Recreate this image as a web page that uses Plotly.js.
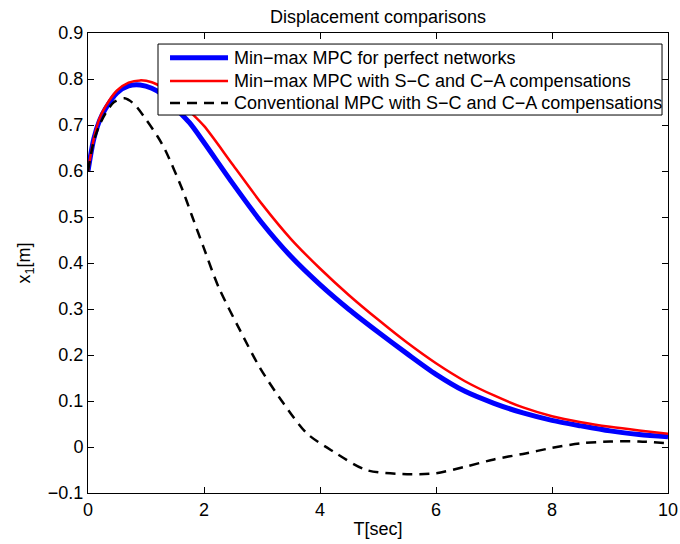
<!DOCTYPE html>
<html>
<head>
<meta charset="utf-8">
<script src="https://cdn.plot.ly/plotly-3.0.1.min.js"></script>
<style>html,body{margin:0;padding:0;background:#fff;}#chart{width:680px;height:544px;}</style>
</head>
<body>
<div id="chart"></div>
<script>
// Time samples and series values
const tBlue = [0, 0.1, 0.2, 0.3, 0.5, 0.7, 0.9, 1.1, 1.3, 1.5, 1.75, 2, 2.5, 3, 3.5, 4, 4.5, 5, 5.5, 6, 6.5, 7, 7.5, 8, 8.5, 9, 9.5, 10];
const blueVals = [0.60, 0.67, 0.71, 0.735, 0.77, 0.785, 0.787, 0.78, 0.765, 0.738, 0.705, 0.662, 0.572, 0.487, 0.414, 0.353, 0.299, 0.25, 0.203, 0.158, 0.121, 0.095, 0.074, 0.058, 0.046, 0.035, 0.027, 0.022];

const tRed = [0, 0.1, 0.2, 0.3, 0.5, 0.7, 0.9, 1.1, 1.3, 1.5, 1.75, 2, 2.5, 3, 3.5, 4, 4.5, 5, 5.5, 6, 6.5, 7, 7.5, 8, 8.5, 9, 9.5, 10];
const redVals = [0.60, 0.67, 0.715, 0.74, 0.775, 0.792, 0.797, 0.793, 0.78, 0.76, 0.73, 0.698, 0.613, 0.528, 0.452, 0.388, 0.33, 0.277, 0.227, 0.182, 0.143, 0.112, 0.086, 0.067, 0.054, 0.044, 0.036, 0.029];

const tBlack = [0, 0.1, 0.2, 0.3, 0.45, 0.63, 0.8, 1.0, 1.2, 1.33, 1.62, 1.8, 1.99, 2.25, 2.62, 2.97, 3.37, 3.77, 4.23, 4.8, 5.5, 6, 6.5, 7, 7.5, 8, 8.5, 9, 9.5, 10];
const blackVals = [0.60, 0.665, 0.70, 0.725, 0.75, 0.758, 0.745, 0.712, 0.675, 0.646, 0.562, 0.50, 0.435, 0.348, 0.254, 0.171, 0.095, 0.03, -0.01, -0.05, -0.059, -0.057, -0.043, -0.027, -0.015, -0.002, 0.008, 0.012, 0.012, 0.008];

const seriesNames = [
  "Min\u2212max MPC for perfect networks",
  "Min\u2212max MPC with S\u2212C and C\u2212A compensations",
  "Conventional MPC with S\u2212C and C\u2212A compensations"
];
const seriesColors = ["#0000ff", "#ff0000", "#000000"];
const seriesWidths = [5, 2.5, 2.5];
const seriesDash = ["solid", "solid", "10px,7px"];
const xTicks = [0, 2, 4, 6, 8, 10];
const yTicks = [-0.1, 0, 0.1, 0.2, 0.3, 0.4, 0.5, 0.6, 0.7, 0.8, 0.9];

const FONT = "Liberation Sans, Arial, Helvetica, sans-serif";
const FS = 18;

const xs = [tBlue, tRed, tBlack];
const ys = [blueVals, redVals, blackVals];
const traces = xs.map((x, i) => ({
  x: x, y: ys[i], name: seriesNames[i], mode: "lines", showlegend: false,
  line: {color: seriesColors[i], width: seriesWidths[i], dash: seriesDash[i], shape: "spline", smoothing: 0.8}
}));

// Legend drawn as a boxed key (paper coordinates)
const legBox = {x0: 0.1207, x1: 0.9897, y0: 0.8217, y1: 0.976};
const legRows = [0.9463, 0.8957, 0.8478];
const legLineX = [0.1414, 0.2414];
const legTextX = 0.2483;

const shapes = [{type: "rect", xref: "paper", yref: "paper",
  x0: legBox.x0, x1: legBox.x1, y0: legBox.y0, y1: legBox.y1,
  line: {color: "#000", width: 1}, fillcolor: "#fff", layer: "above"}];
const annotations = [];
legRows.forEach((ry, i) => {
  shapes.push({type: "line", xref: "paper", yref: "paper",
    x0: legLineX[0], x1: legLineX[1], y0: ry, y1: ry, layer: "above",
    line: {color: seriesColors[i], width: seriesWidths[i], dash: seriesDash[i]}});
  annotations.push({xref: "paper", yref: "paper", x: legTextX, y: ry,
    xanchor: "left", yanchor: "middle", showarrow: false, text: seriesNames[i],
    font: {family: FONT, size: FS, color: "#000"}});
});

const axisCommon = {
  showline: true, mirror: "ticks", linecolor: "#000", linewidth: 1,
  ticks: "inside", ticklen: 6, tickcolor: "#000", tickwidth: 1,
  showgrid: false, zeroline: false,
  tickfont: {family: FONT, size: FS, color: "#000"}
};

const layout = {
  width: 680, height: 544,
  paper_bgcolor: "#fff", plot_bgcolor: "#fff",
  margin: {l: 88, r: 12, t: 33, b: 51},
  font: {family: FONT, color: "#000"},
  title: {text: "Displacement comparisons", font: {family: FONT, size: FS, color: "#000"},
          x: 0.5, xref: "paper", y: 0.969, yanchor: "middle"},
  xaxis: Object.assign({}, axisCommon, {
    range: [0, 10], tickvals: xTicks, ticktext: xTicks.map(String),
    title: {text: "T[sec]", font: {family: FONT, size: FS, color: "#000"}, standoff: 3}
  }),
  yaxis: Object.assign({}, axisCommon, {
    range: [-0.1, 0.9], tickvals: yTicks,
    ticktext: yTicks.map(v => (v < 0 ? "\u2212" : "") + String(Math.abs(v))),
    title: {text: "x<sub>1</sub>[m]", font: {family: FONT, size: FS, color: "#000"}, standoff: 12}
  }),
  showlegend: false,
  shapes: shapes,
  annotations: annotations
};

Plotly.newPlot("chart", traces, layout, {displayModeBar: false, staticPlot: true});
</script>
</body>
</html>
